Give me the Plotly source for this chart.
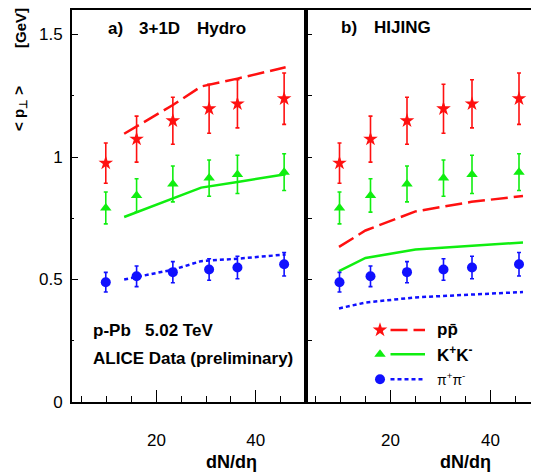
import plotly.graph_objects as go

# ---------------- data ----------------
x_data = [9.8, 16.0, 23.3, 30.6, 36.3, 45.7]
p_mean = [0.975, 1.073, 1.148, 1.197, 1.217, 1.238]
p_err = [0.082, 0.094, 0.096, 0.100, 0.098, 0.105]
k_mean = [0.792, 0.843, 0.890, 0.914, 0.929, 0.938]
k_err = [0.065, 0.068, 0.073, 0.074, 0.078, 0.075]
pi_mean = [0.489, 0.513, 0.530, 0.541, 0.549, 0.562]
pi_err = [0.040, 0.042, 0.043, 0.044, 0.046, 0.048]

hydro_x = [13.5, 23.3, 29.0, 36.3, 46.0]
hydro_p = [1.095, 1.212, 1.288, 1.320, 1.366]
hydro_k = [0.755, 0.830, 0.875, 0.898, 0.930]
hydro_pi = [0.500, 0.540, 0.575, 0.585, 0.602]

hij_x = [9.7, 15.0, 25.0, 36.2, 46.5]
hij_p = [0.633, 0.700, 0.778, 0.817, 0.841]
hij_k = [0.534, 0.588, 0.622, 0.637, 0.651]
hij_pi = [0.382, 0.406, 0.427, 0.439, 0.449]

legend_labels = ["pp\u0304", "K<sup>+</sup>K<sup>-</sup>", "\u03c0<sup>+</sup>\u03c0<sup>-</sup>"]

# ---------------- style ----------------
RED = "#ff1010"
GREEN = "#10ee10"
BLUE = "#1010ff"
FONT = "Liberation Sans, Arial, sans-serif"
STAR_SIZE = 11

# the page body has an 8px margin: lay out in page pixels, subtract the offset
OFF = 8
PW, PH = 539, 472          # page size
W, H = PW - OFF, PH - OFF  # figure size
PLOT_L, PLOT_R, PLOT_T, PLOT_B = 72, 539, 10, 402   # plot area in page pixels
ML, MR, MT, MB = PLOT_L - OFF, PW - PLOT_R, PLOT_T - OFF, PH - PLOT_B
SPLIT_PX = 305.5

fig = go.Figure()

def data_traces(xa, ya):
    specs = [
        (p_mean, p_err, RED, "star", STAR_SIZE),
        (k_mean, k_err, GREEN, "triangle-up", 10),
        (pi_mean, pi_err, BLUE, "circle", 10),
    ]
    for m, e, c, sym, sz in specs:
        fig.add_trace(go.Scatter(
            x=x_data, y=m, mode="markers", xaxis=xa, yaxis=ya,
            marker=dict(symbol=sym, size=sz, color=c, line=dict(width=0)),
            error_y=dict(type="data", array=e, color=c, thickness=1.6, width=2),
            showlegend=False, hoverinfo="skip"))

def model_traces(xs, ps, ks, pis, xa, ya):
    fig.add_trace(go.Scatter(x=xs, y=ps, mode="lines", xaxis=xa, yaxis=ya,
                             line=dict(color=RED, width=2.5, dash="17px,6px"),
                             showlegend=False, hoverinfo="skip"))
    fig.add_trace(go.Scatter(x=xs, y=ks, mode="lines", xaxis=xa, yaxis=ya,
                             line=dict(color=GREEN, width=2.5),
                             showlegend=False, hoverinfo="skip"))
    fig.add_trace(go.Scatter(x=xs, y=pis, mode="lines", xaxis=xa, yaxis=ya,
                             line=dict(color=BLUE, width=2.5, dash="4px,3px"),
                             showlegend=False, hoverinfo="skip"))

model_traces(hydro_x, hydro_p, hydro_k, hydro_pi, "x", "y")
data_traces("x", "y")
model_traces(hij_x, hij_p, hij_k, hij_pi, "x2", "y2")
data_traces("x2", "y2")

# ---------------- legend (drawn in panel b) ----------------
LEG_MX, LEG_L0, LEG_L1, LEG_TX = 17.9, 20.0, 26.9, 28.9
LEG_Y = [0.294, 0.195, 0.093]
leg_specs = [(RED, "star", STAR_SIZE, "17px,6px", True),
             (GREEN, "triangle-up", 10, "solid", True),
             (BLUE, "circle", 10, "4px,3px", False)]
for (c, sym, sz, dash, bold), ly, lab in zip(leg_specs, LEG_Y, legend_labels):
    fig.add_trace(go.Scatter(x=[LEG_MX], y=[ly], mode="markers", xaxis="x2", yaxis="y2",
                             marker=dict(symbol=sym, size=sz, color=c),
                             showlegend=False, hoverinfo="skip"))
    fig.add_trace(go.Scatter(x=[LEG_L0, LEG_L1], y=[ly, ly], mode="lines", xaxis="x2", yaxis="y2",
                             line=dict(color=c, width=2.5, dash=dash),
                             showlegend=False, hoverinfo="skip"))
    fig.add_annotation(x=LEG_TX, y=ly, xref="x2", yref="y2", xanchor="left", yanchor="middle",
                       text=("<b>%s</b>" % lab) if bold else lab, showarrow=False,
                       font=dict(family=FONT, size=17 if bold else 14, color="black"))

# ---------------- axes ----------------
split = (SPLIT_PX - PLOT_L) / (PLOT_R - PLOT_L)
common_x = dict(range=[3, 50], showline=True, linewidth=2, linecolor="black", mirror=True,
                ticks="inside", tickmode="array", tickvals=[20, 40], ticklen=12, tickwidth=1.3,
                tickcolor="black", showgrid=False, zeroline=False,
                minor=dict(ticks="inside", dtick=5, tick0=0, ticklen=6, tickwidth=1.3, tickcolor="black", showgrid=False),
                tickfont=dict(family=FONT, size=17, color="black"), ticklabelstandoff=22)
fig.update_layout(
    xaxis=dict(domain=[0, split], **common_x),
    xaxis2=dict(domain=[split, 1], anchor="y2", **{**common_x, "range": [3, 3 + (PLOT_R - SPLIT_PX) / 5.0]}),
    yaxis=dict(domain=[0, 1], range=[0, 1.6], showline=True, linewidth=2, linecolor="black", mirror=True,
               ticks="inside", tickvals=[0, 0.5, 1, 1.5], ticktext=["0", "0.5", "1", "1.5"], ticklen=6,
               tickwidth=1.3, tickcolor="black", showgrid=False, zeroline=False,
               minor=dict(ticks="inside", tickvals=[0.25, 0.75, 1.25], ticklen=2, tickwidth=1.3, tickcolor="black", showgrid=False),
               tickfont=dict(family=FONT, size=17, color="black"), ticklabelstandoff=4),
    yaxis2=dict(domain=[0, 1], range=[0, 1.6], anchor="x2", showline=True, linewidth=2, linecolor="black",
                ticks="inside", dtick=0.25, tick0=0, ticklen=6, tickwidth=1.3, tickcolor="black",
                showticklabels=False, showgrid=False, zeroline=False),
    width=W, height=H, margin=dict(l=ML, r=MR, t=MT, b=MB),
    paper_bgcolor="white", plot_bgcolor="white", showlegend=False,
)

# ---------------- texts ----------------
def px2paper(px, py):
    return (px - PLOT_L) / (PLOT_R - PLOT_L), (PLOT_B - py) / (PLOT_B - PLOT_T)

def text(px, py, s, size=17, bold=True, anchor="left", angle=0):
    xp, yp = px2paper(px, py)
    fig.add_annotation(x=xp, y=yp, xref="paper", yref="paper", showarrow=False,
                       text=("<b>%s</b>" % s) if bold else s, xanchor=anchor, yanchor="middle",
                       textangle=angle, font=dict(family=FONT, size=size, color="black"))

text(106, 28, "a)")
text(137, 28, "3+1D")
text(195, 28, "Hydro")
text(339, 27, "b)")
text(372, 27, "HIJING")
text(91, 330, "p-Pb")
text(143, 330, "5.02 TeV")
text(91, 358, "ALICE Data (preliminary)")
text(231, 462, "dN/d\u03b7", size=18, anchor="center")
text(465, 462, "dN/d\u03b7", size=18, anchor="center")
text(20, 28, "[GeV]", size=15, anchor="center", angle=-90)
text(20, 109, "&lt; p<sub>\u22a5</sub> &gt;", size=15, anchor="center", angle=-90)

fig.write_html("out.html")
